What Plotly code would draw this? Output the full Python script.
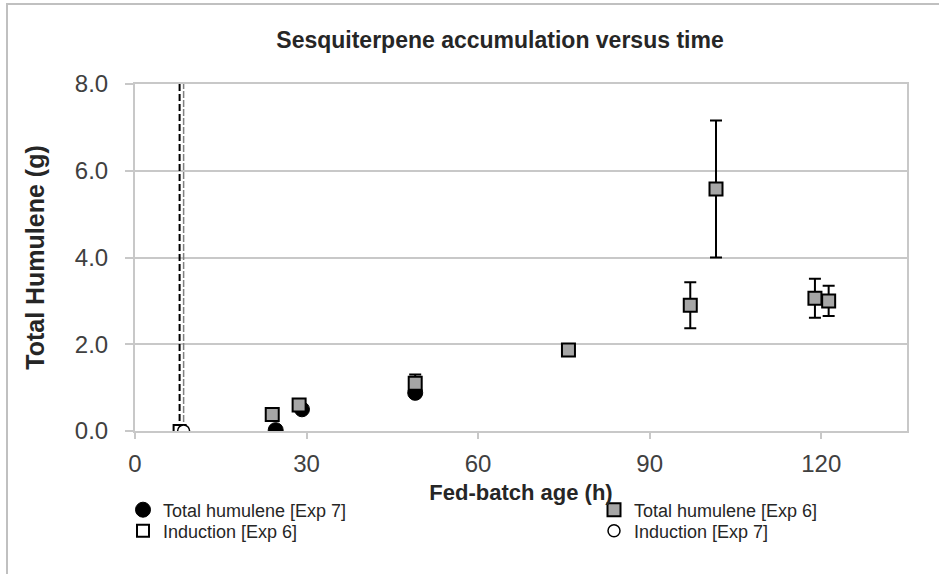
import plotly.graph_objects as go

# ---- data ----
exp7_time = [24.6, 29.2, 49.0]
exp7_hum = [0.02, 0.50, 0.88]

exp6_time = [24.0, 28.7, 49.0, 75.8, 97.1, 101.6, 118.9, 121.3]
exp6_hum = [0.38, 0.60, 1.10, 1.87, 2.90, 5.58, 3.06, 3.00]
exp6_err = [0.0, 0.0, 0.20, 0.0, 0.53, 1.58, 0.45, 0.35]

ind6_time = [7.8]
ind6_val = [0.0]
ind7_time = [8.5]
ind7_val = [0.0]
ind_line_y = [0.0, 8.0]

x_ticks = [0, 30, 60, 90, 120]
y_ticks = [0, 2, 4, 6, 8]

FONT = "Liberation Sans, Arial, sans-serif"
GRID = "#c8c8c8"
TXT = "#404040"
DARK = "#262626"

L, R, T, B = 135, 32, 84, 143
W, H = 939, 574
pw, ph = W - L - R, H - T - B


def px_x(x):
    return (x - L) / pw


def px_y(y):
    return (H - B - y) / ph


fig = go.Figure()

# induction dashed lines
fig.add_trace(go.Scatter(x=[ind6_time[0]] * 2, y=ind_line_y, mode="lines",
                         line=dict(color="#000000", width=2, dash="7px,3px"),
                         showlegend=False, hoverinfo="skip"))
fig.add_trace(go.Scatter(x=[ind7_time[0]] * 2, y=ind_line_y, mode="lines",
                         line=dict(color="#808080", width=1.5, dash="7px,2px"),
                         showlegend=False, hoverinfo="skip"))

fig.add_trace(go.Scatter(
    x=exp7_time, y=exp7_hum, mode="markers", name="Total humulene [Exp 7]",
    legend="legend",
    marker=dict(symbol="circle", size=15, color="#000000",
                line=dict(color="#000000", width=1))))
fig.add_trace(go.Scatter(
    x=exp6_time, y=exp6_hum, mode="markers", name="Total humulene [Exp 6]",
    legend="legend2",
    error_y=dict(type="data", array=exp6_err, visible=True, color="#000000",
                 thickness=2, width=6),
    marker=dict(symbol="square", size=13, color="#a6a6a6",
                line=dict(color="#000000", width=2))))
fig.add_trace(go.Scatter(
    x=ind6_time, y=ind6_val, mode="markers", name="Induction [Exp 6]",
    legend="legend3",
    marker=dict(symbol="square", size=12, color="#ffffff",
                line=dict(color="#000000", width=2))))
fig.add_trace(go.Scatter(
    x=ind7_time, y=ind7_val, mode="markers", name="Induction [Exp 7]",
    legend="legend4",
    marker=dict(symbol="circle", size=12, color="#ffffff",
                line=dict(color="#000000", width=1.5))))


def leg(xpx, ypx):
    return dict(x=px_x(xpx), xanchor="left", y=px_y(ypx), yanchor="middle",
                font=dict(family=FONT, size=18, color=DARK),
                bgcolor="rgba(0,0,0,0)", borderwidth=0)


fig.update_layout(
    width=W, height=H,
    margin=dict(l=L, r=R, t=T, b=B),
    paper_bgcolor="#ffffff", plot_bgcolor="#ffffff",
    font=dict(family=FONT, color=TXT, size=18),
    title=dict(text="<b>Sesquiterpene accumulation versus time</b>",
               x=500 / W, xanchor="center", y=1 - 40 / H, yanchor="middle",
               xref="container", yref="container",
               font=dict(family=FONT, size=23, color=DARK)),
    xaxis=dict(range=[0, 135], tickvals=x_ticks, showgrid=False,
               showline=True, linecolor=GRID, linewidth=2, mirror=True,
               ticks="outside", ticklen=6, tickcolor=GRID, tickwidth=2,
               zeroline=False, ticklabelstandoff=4,
               tickfont=dict(size=24, color=TXT),
               title=dict(text="<b>Fed-batch age (h)</b>", standoff=9,
                          font=dict(size=22, color=DARK))),
    yaxis=dict(range=[0, 8], tickvals=y_ticks, tickformat=".1f",
               showgrid=True, gridcolor=GRID, gridwidth=1.5,
               showline=True, linecolor=GRID, linewidth=2, mirror=True,
               ticks="outside", ticklen=8, tickcolor=GRID, tickwidth=1.5,
               zeroline=False, ticklabelstandoff=12,
               tickfont=dict(size=24, color=TXT),
               title=dict(text="<b>Total Humulene (g)</b>", standoff=23,
                          font=dict(size=25, color=DARK))),
    legend=leg(123, 510),
    legend2=leg(594, 510),
    legend3=leg(123, 531),
    legend4=leg(594, 531),
    shapes=[dict(type="rect", xref="paper", yref="paper",
                 x0=px_x(7), x1=px_x(960), y0=px_y(600), y1=px_y(4),
                 line=dict(color="#c0c0c0", width=2), layer="below")],
    showlegend=True,
)

fig.write_html("out.html", config={"displayModeBar": False},
               post_script="document.body.style.margin='0px';")
